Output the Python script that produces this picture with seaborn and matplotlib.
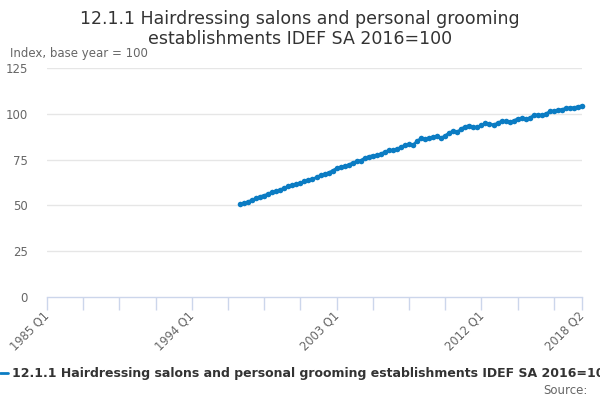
import matplotlib
matplotlib.use("Agg")
import matplotlib.pyplot as plt
import seaborn as sns
import numpy as np
import pandas as pd

# ---- data ----
start_year, start_q = 1985, 1
end_year, end_q = 2018, 2
data_start = "1997 Q1"
values = [
    50.5, 51.2, 51.9, 53.0, 53.8, 54.8, 55.4, 56.2, 57.3, 57.8,
    58.5, 59.5, 60.4, 61.0, 61.5, 62.3, 63.1, 63.6, 64.3, 65.3,
    66.4, 67.1, 67.8, 68.9, 70.2, 70.8, 71.5, 72.1, 73.2, 74.0,
    74.5, 75.8, 76.6, 77.2, 77.3, 78.0, 79.2, 80.0, 80.1, 80.6,
    81.9, 82.8, 83.3, 82.9, 85.0, 86.6, 86.0, 87.0, 87.3, 87.8,
    86.8, 88.0, 89.6, 90.6, 89.9, 91.8, 93.0, 93.5, 92.6, 92.7,
    93.8, 94.8, 94.4, 94.0, 94.8, 96.0, 95.8, 95.5, 96.1, 97.3,
    97.5, 97.2, 97.6, 99.2, 99.4, 99.2, 99.8, 101.3, 101.5, 102.0,
    102.3, 103.0, 103.2, 103.3, 103.9, 104.3,
]
series_name = "12.1.1 Hairdressing salons and personal grooming establishments IDEF SA 2016=100"
title = "12.1.1 Hairdressing salons and personal grooming\nestablishments IDEF SA 2016=100"
y_label = "Index, base year = 100"
y_ticks = [0, 25, 50, 75, 100, 125]
x_label_cats = ["1985 Q1", "1994 Q1", "2003 Q1", "2012 Q1", "2018 Q2"]

# categories
cats = []
y, q = start_year, start_q
while (y, q) <= (end_year, end_q):
    cats.append(f"{y} Q{q}")
    q += 1
    if q > 4:
        q = 1
        y += 1
pos = {c: i for i, c in enumerate(cats)}
i0 = pos[data_start]
df = pd.DataFrame({"x": np.arange(i0, i0 + len(values)), "value": values})

sns.set_theme(style="white")
plt.rcParams["font.family"] = ["DejaVu Sans"]

fig = plt.figure(figsize=(6, 4), dpi=100)
ax = fig.add_axes([47 / 600, 1 - 297 / 400, 535 / 600, 229 / 400])

blue = "#0b7cc3"
sns.lineplot(data=df, x="x", y="value", ax=ax, color=blue, linewidth=2,
             marker="o", markersize=4, markeredgewidth=0, clip_on=False)

ax.set_xlim(0, len(cats) - 1)
ax.set_ylim(0, 125)
ax.set_yticks(y_ticks)
ax.set_yticklabels([str(t) for t in y_ticks], color="#666666", fontsize=8.5)
for t in y_ticks[1:]:
    ax.axhline(t, color="#e6e6e6", linewidth=1, zorder=0)

tick_pos = list(range(0, len(cats), 9)) + [len(cats) - 1]
ax.set_xticks(tick_pos)
ax.set_xticklabels([""] * len(tick_pos))
ax.tick_params(axis="x", length=9, width=1, color="#ccd6eb", direction="out", bottom=True)
ax.tick_params(axis="y", length=0, pad=14)
for c in x_label_cats:
    ax.text(pos[c] - 1.0, -6.5, c, rotation=45, ha="right", va="top",
            rotation_mode="anchor", fontsize=8.3, color="#666666",
            transform=ax.transData, clip_on=False)

for s in ["top", "right", "left"]:
    ax.spines[s].set_visible(False)
ax.spines["bottom"].set_color("#ccd6eb")
ax.spines["bottom"].set_linewidth(1)
ax.set_xlabel("")
ax.set_ylabel("")

fig.text(0.5, 1 - 29 / 400, title, ha="center", va="center", fontsize=12.5,
         color="#333333", linespacing=1.1)
fig.text(10 / 600, 1 - 53 / 400, y_label, ha="left", va="center", fontsize=8.5,
         color="#666666")

# legend
fig.add_artist(plt.Line2D([0, 8 / 600], [1 - 373 / 400] * 2, color=blue, linewidth=2,
                          transform=fig.transFigure))
fig.text(12 / 600, 1 - 373 / 400, series_name, ha="left", va="center", fontsize=9,
         fontweight="bold", color="#333333")
fig.text(588 / 600, 1 - 390 / 400, "Source:", ha="right", va="center", fontsize=8.5,
         color="#666666")

fig.savefig("out.png", dpi=100)
